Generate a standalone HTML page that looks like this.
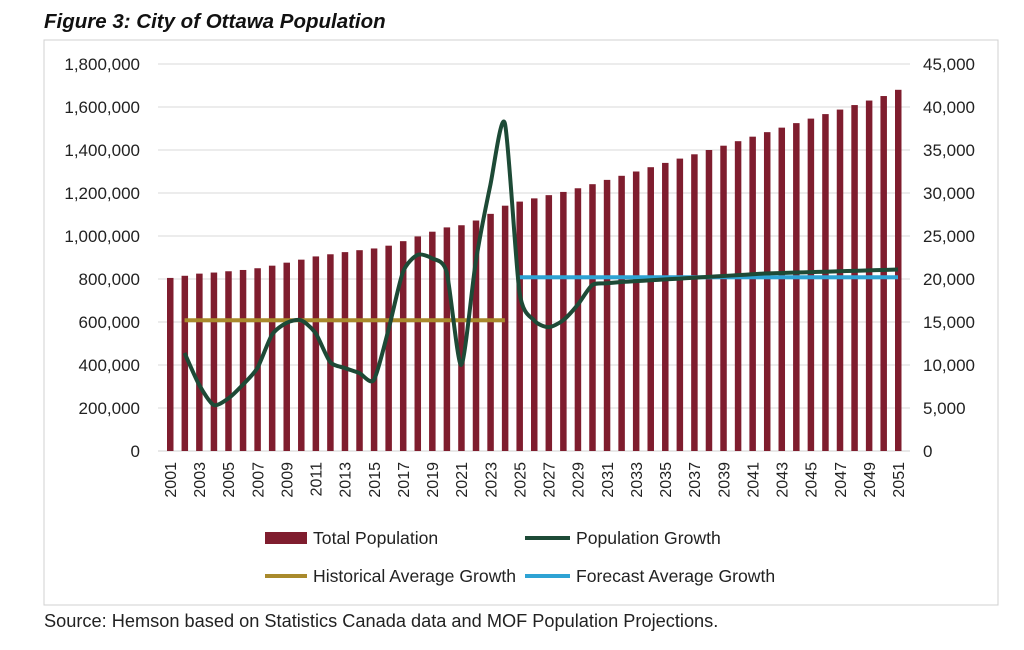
<!DOCTYPE html>
<html><head><meta charset="utf-8"><style>
body{margin:0;background:#fff;width:1024px;height:645px;overflow:hidden;font-family:"Liberation Sans",sans-serif}
</style></head><body>
<svg width="1024" height="645" id="svg" font-family="Liberation Sans, sans-serif">
<text x="44" y="28" font-size="20.5" font-weight="bold" font-style="italic" fill="#111">Figure 3: City of Ottawa Population</text>
<rect x="44" y="40" width="954" height="565" fill="none" stroke="#d0d0d0"/>
<g id="grid"></g><g id="bars"></g><g id="lines"></g><g id="axes"></g>
<g font-size="17.6" fill="#222">
<rect x="265" y="532" width="42" height="12" fill="#7f1d2e"/>
<text x="313" y="544">Total Population</text>
<line x1="525" y1="538" x2="570" y2="538" stroke="#1d4a36" stroke-width="4"/>
<text x="576" y="544">Population Growth</text>
<line x1="265" y1="576" x2="307" y2="576" stroke="#a98a2c" stroke-width="4"/>
<text x="313" y="582">Historical Average Growth</text>
<line x1="525" y1="576" x2="570" y2="576" stroke="#2ea3d4" stroke-width="4"/>
<text x="576" y="582">Forecast Average Growth</text>
</g>
<text x="44" y="627" font-size="18.2" fill="#222">Source: Hemson based on Statistics Canada data and MOF Population Projections.</text>
</svg>
<script>
const years=[];for(let y=2001;y<=2051;y++)years.push(y);
const population=[805,815,825,830,836,842,850,862,876,890,905,915,925,934,942,955,976,998,1020,1040,1050,1072,1103,1141,1160,1175,1190,1205,1222,1241,1261,1280,1300,1320,1340,1360,1380,1400,1420,1441,1462,1483,1504,1525,1546,1567,1588,1609,1630,1651,1680].map(v=>v*1000);
const growthYears=[];for(let y=2002;y<=2051;y++)growthYears.push(y);
const growth=[11400,7700,5350,6100,7700,9650,13500,14900,15200,13700,10350,9650,9070,8260,14070,20800,22800,22400,20800,10000,22000,30900,38100,18500,15200,14400,15200,17000,19300,19500,19650,19750,19850,19950,20050,20150,20250,20350,20450,20550,20650,20700,20750,20800,20850,20900,20950,21000,21050,21100];
const historicalAvg=15200, historicalRange=[2002,2024];
const forecastAvg=20200, forecastRange=[2025,2051];
const leftTicks=[0,200000,400000,600000,800000,1000000,1200000,1400000,1600000,1800000];
const rightTicks=[0,5000,10000,15000,20000,25000,30000,35000,40000,45000];
const NS="http://www.w3.org/2000/svg";
const x=y=>170+(y-2001)*(898-170)/50;
const yl=v=>451-v*(451-64)/1800000;
const yr=v=>451-v*(451-64)/45000;
function mk(tag,attrs,parent){const e=document.createElementNS(NS,tag);for(const k in attrs)e.setAttribute(k,attrs[k]);document.getElementById(parent).appendChild(e);return e;}
const fmt=v=>v.toLocaleString('en-US');
leftTicks.forEach((t,i)=>{
 if(i>0){const g=mk('line',{x1:158,x2:910,y1:yl(t),y2:yl(t),stroke:'#d9d9d9','stroke-width':1},'grid');
 
 }
 const l=mk('text',{x:140,y:yl(t)+6,'text-anchor':'end','font-size':17,fill:'#222'},'axes');l.textContent=fmt(t);
 
 
});
rightTicks.forEach(t=>{
 const l=mk('text',{x:923,y:yr(t)+6,'font-size':17,fill:'#222'},'axes');l.textContent=fmt(t);
 
 
});
const base=mk('line',{x1:158,x2:910,y1:451,y2:451,stroke:'#d0d0d0'},'grid');


years.forEach((yr_,i)=>{
 const b=mk('rect',{x:x(yr_)-3,y:yl(population[i]),width:6.5,height:451-yl(population[i]),fill:'#7f1d2e'},'bars');
 
 
 if(yr_%2===1){const t=mk('text',{x:0,y:0,'text-anchor':'end','font-size':16,fill:'#222',transform:`translate(${x(yr_)+6},462) rotate(-90)`},'axes');t.textContent=yr_;
 
 }
});
const h=mk('line',{x1:x(historicalRange[0]),x2:x(historicalRange[1]),y1:yr(historicalAvg),y2:yr(historicalAvg),stroke:'#a98a2c','stroke-width':4},'lines');


const f=mk('line',{x1:x(forecastRange[0]),x2:x(forecastRange[1]),y1:yr(forecastAvg),y2:yr(forecastAvg),stroke:'#2ea3d4','stroke-width':4},'lines');


const pts=growthYears.map((g,i)=>[x(g),yr(growth[i])]);
let d='M'+pts[0][0]+','+pts[0][1];
for(let i=0;i<pts.length-1;i++){const p0=pts[Math.max(0,i-1)],p1=pts[i],p2=pts[i+1],p3=pts[Math.min(pts.length-1,i+2)];const k=0.12;
 d+=` C${p1[0]+(p2[0]-p0[0])*k},${p1[1]+(p2[1]-p0[1])*k} ${p2[0]-(p3[0]-p1[0])*k},${p2[1]-(p3[1]-p1[1])*k} ${p2[0]},${p2[1]}`;}
const gl=mk('path',{d:d,fill:'none',stroke:'#1d4a36','stroke-width':4,'stroke-linejoin':'round'},'lines');


</script>
</body></html>
